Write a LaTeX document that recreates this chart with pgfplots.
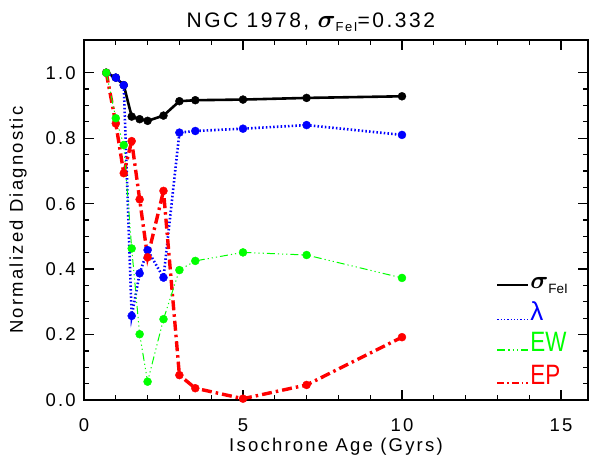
\documentclass[border=0pt]{standalone}
\usepackage{amsmath}
\usepackage{fontspec}
\setmainfont{Liberation Sans}[LetterSpace=12]
\newfontfamily\plainfont{Liberation Sans}
\usepackage{graphicx}
\usepackage{pgfplots}
\pgfplotsset{compat=1.18}
\definecolor{idlblue}{RGB}{0,0,255}
\definecolor{idlgreen}{RGB}{0,255,0}
\definecolor{idlred}{RGB}{255,0,0}
\begin{document}
\begin{tikzpicture}
\path[use as bounding box] (-84pt,-65pt) rectangle (507pt,400pt);
\begin{axis}[
  at={(0pt,0pt)}, anchor=south west,
  scale only axis, width=504pt, height=360pt,
  xmin=0, xmax=15.85, ymin=0, ymax=1.1,
  clip=false,
  axis line style={line width=1.8pt},
  tick style={line width=1.2pt, black},
  major tick length=10pt, minor tick length=5pt,
  tick align=inside,
  xtick={0,5,10,15}, minor x tick num=4,
  ytick={0,0.2,0.4,0.6,0.8,1.0}, minor y tick num=3,
  /pgf/number format/assume math mode=true,
  yticklabel style={/pgf/number format/fixed, /pgf/number format/fixed zerofill, /pgf/number format/precision=1},
  ticklabel style={font=\fontsize{18.5}{18.5}\selectfont},
  xticklabel style={anchor=base, yshift=-31pt, inner sep=0pt},
  yticklabel style={anchor=east, xshift=-8pt, inner sep=0pt},
  xlabel={Isochrone Age (Gyrs)},
  ylabel={Normalized Diagnostic},
  label style={font=\fontsize{18.5}{18.5}\selectfont},
  xlabel style={at={(axis description cs:0.5,-0.1444)}, anchor=base},
  ylabel style={at={(axis description cs:-0.131,0.5)}, anchor=center},
  pt/.style={mark=*, mark size=4pt, mark options={solid, line width=0.4pt}},
]
\addplot[black, line width=2.6pt, pt] coordinates {
(0.7,1.0) (1.0,0.985) (1.25,0.962) (1.5,0.866) (1.75,0.858) (2.0,0.853) (2.5,0.869) (3.0,0.913) (3.5,0.916) (5.0,0.918) (7.0,0.923) (10.0,0.928)};
\addplot[idlblue, line width=2.6pt, dash pattern=on 1.5pt off 2.2pt, pt] coordinates {
(0.7,1.0) (1.0,0.985) (1.25,0.962) (1.5,0.257) (1.75,0.387) (2.0,0.458) (2.5,0.374) (3.0,0.817) (3.5,0.822) (5.0,0.829) (7.0,0.840) (10.0,0.810)};
\addplot[idlred, line width=3.4pt, dash pattern=on 10pt off 4pt on 2.5pt off 4pt, pt] coordinates {
(0.7,1.0) (1.0,0.845) (1.25,0.693) (1.5,0.791) (1.75,0.613) (2.0,0.436) (2.5,0.639) (3.0,0.076) (3.5,0.036) (5.0,0.004) (7.0,0.046) (10.0,0.192)};
\addplot[idlgreen, line width=1pt, dash pattern=on 8pt off 3pt on 1.2pt off 3pt on 1.2pt off 3pt on 1.2pt off 3pt, pt] coordinates {
(0.7,1.0) (1.0,0.861) (1.25,0.779) (1.5,0.463) (1.75,0.201) (2.0,0.056) (2.5,0.247) (3.0,0.397) (3.5,0.425) (5.0,0.451) (7.0,0.443) (10.0,0.373)};
% legend samples
\addplot[black, line width=1.3pt, no marks] coordinates {(13.0,0.351) (13.97,0.351)};
\addplot[idlblue, line width=1.2pt, dash pattern=on 1.3pt off 2pt, no marks] coordinates {(13.0,0.247) (13.97,0.247)};
\addplot[idlgreen, line width=1.2pt, dash pattern=on 8pt off 3pt on 1.3pt off 3pt on 1.3pt off 3pt on 1.3pt off 3pt, no marks] coordinates {(13.0,0.153) (13.97,0.153)};
\addplot[idlred, line width=1.2pt, dash pattern=on 7pt off 3pt on 1.5pt off 3pt, no marks] coordinates {(13.0,0.052) (13.97,0.052)};
\node[anchor=base west, inner sep=0pt] at (axis cs:14.03,0.342)
  {{\fontsize{28}{28}\selectfont$\boldsymbol{\sigma}$}\raisebox{-5pt}{\plainfont\fontsize{13.5}{13.5}\selectfont FeI}};
\node[anchor=base west, inner sep=0pt, text=idlblue] at (axis cs:14.03,0.244)
  {\plainfont\fontsize{26}{26}\selectfont λ};
\node[anchor=base west, inner sep=0pt, text=idlgreen] at (axis cs:14.03,0.147)
  {\scalebox{0.8}[1]{\plainfont\fontsize{28}{28}\selectfont EW}};
\node[anchor=base west, inner sep=0pt, text=idlred] at (axis cs:14.03,0.046)
  {\scalebox{0.8}[1]{\plainfont\fontsize{28}{28}\selectfont EP}};
\node[anchor=base, font=\fontsize{21}{21}\selectfont, inner sep=0pt] at (axis description cs:0.45,1.036)
  {NGC 1978, {\fontsize{28}{28}\selectfont$\boldsymbol{\sigma}$}\raisebox{-4pt}{\fontsize{13}{13}\selectfont FeI}=0.332};
\end{axis}
\end{tikzpicture}
\end{document}
